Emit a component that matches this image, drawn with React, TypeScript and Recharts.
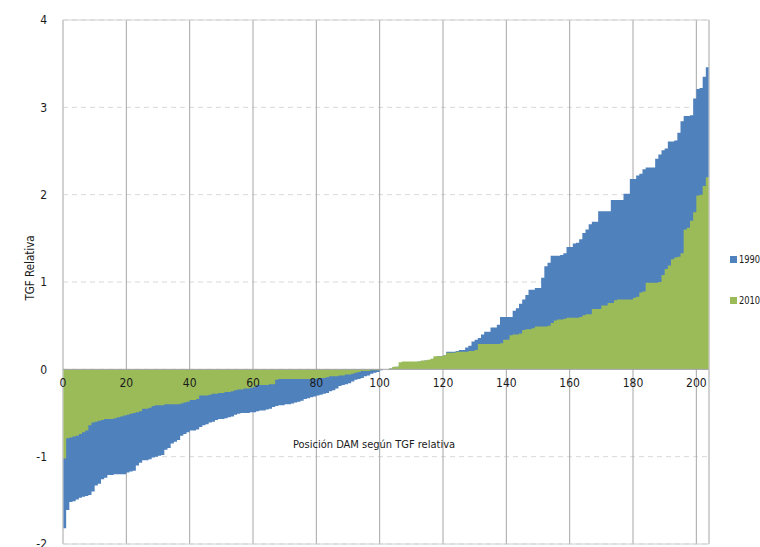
import React from 'react';
import {
  AreaChart,
  Area,
  XAxis,
  YAxis,
  CartesianGrid,
  ReferenceLine,
  ReferenceArea,
  Legend,
} from 'recharts';

// TGF relativa por DAM, ordenada de menor a mayor (posición 0..203)
const tgf1990 = [
  -1.82, -1.61, -1.52, -1.51, -1.49, -1.47, -1.46, -1.45, -1.44, -1.40,
  -1.33, -1.31, -1.26, -1.24, -1.21, -1.21, -1.20, -1.20, -1.20, -1.20,
  -1.18, -1.17, -1.16, -1.10, -1.07, -1.04, -1.04, -1.03, -1.01, -1.00,
  -0.99, -0.98, -0.92, -0.90, -0.85, -0.83, -0.81, -0.76, -0.74, -0.72,
  -0.70, -0.70, -0.69, -0.66, -0.64, -0.63, -0.61, -0.60, -0.58, -0.57,
  -0.57, -0.56, -0.55, -0.54, -0.52, -0.51, -0.50, -0.50, -0.50, -0.49,
  -0.49, -0.48, -0.47, -0.47, -0.46, -0.45, -0.43, -0.42, -0.41, -0.41,
  -0.40, -0.40, -0.39, -0.38, -0.37, -0.36, -0.34, -0.33, -0.32, -0.31,
  -0.30, -0.29, -0.28, -0.27, -0.25, -0.24, -0.22, -0.19, -0.18, -0.17,
  -0.16, -0.14, -0.12, -0.11, -0.10, -0.08, -0.07, -0.05, -0.04, -0.03,
  -0.01, 0.00, 0.00, 0.01, 0.02, 0.03, 0.04, 0.05, 0.06, 0.07,
  0.08, 0.08, 0.09, 0.09, 0.10, 0.10, 0.11, 0.13, 0.15, 0.15,
  0.16, 0.20, 0.20, 0.20, 0.21, 0.22, 0.22, 0.25, 0.27, 0.32,
  0.34, 0.36, 0.40, 0.43, 0.43, 0.48, 0.48, 0.51, 0.60, 0.60,
  0.60, 0.60, 0.67, 0.70, 0.75, 0.80, 0.85, 0.91, 0.91, 0.93,
  0.93, 1.05, 1.18, 1.22, 1.30, 1.30, 1.30, 1.31, 1.33, 1.40,
  1.40, 1.44, 1.45, 1.49, 1.56, 1.60, 1.66, 1.69, 1.69, 1.81,
  1.81, 1.81, 1.81, 1.94, 1.94, 1.94, 1.94, 2.01, 2.01, 2.18,
  2.18, 2.22, 2.24, 2.29, 2.31, 2.31, 2.31, 2.41, 2.46, 2.51,
  2.53, 2.61, 2.61, 2.62, 2.71, 2.84, 2.90, 2.90, 2.91, 3.10,
  3.21, 3.22, 3.35, 3.46,
];

const tgf2010 = [
  -1.02, -0.79, -0.78, -0.77, -0.76, -0.74, -0.72, -0.70, -0.64, -0.61,
  -0.60, -0.59, -0.58, -0.57, -0.57, -0.57, -0.56, -0.55, -0.54, -0.53,
  -0.52, -0.51, -0.50, -0.49, -0.48, -0.45, -0.45, -0.44, -0.42, -0.41,
  -0.41, -0.41, -0.40, -0.40, -0.40, -0.40, -0.40, -0.39, -0.38, -0.37,
  -0.35, -0.35, -0.34, -0.30, -0.30, -0.30, -0.29, -0.28, -0.28, -0.27,
  -0.27, -0.26, -0.26, -0.25, -0.24, -0.23, -0.23, -0.22, -0.22, -0.21,
  -0.20, -0.18, -0.18, -0.18, -0.18, -0.17, -0.17, -0.12, -0.11, -0.11,
  -0.11, -0.11, -0.11, -0.11, -0.11, -0.11, -0.11, -0.11, -0.11, -0.11,
  -0.10, -0.10, -0.10, -0.09, -0.08, -0.08, -0.08, -0.07, -0.07, -0.06,
  -0.06, -0.05, -0.04, -0.03, -0.02, -0.02, -0.02, -0.01, -0.01, -0.01,
  0.00, 0.00, 0.00, 0.01, 0.03, 0.03, 0.08, 0.09, 0.09, 0.09,
  0.09, 0.09, 0.09, 0.10, 0.10, 0.11, 0.12, 0.15, 0.15, 0.15,
  0.16, 0.19, 0.19, 0.19, 0.20, 0.20, 0.20, 0.20, 0.21, 0.21,
  0.22, 0.29, 0.29, 0.29, 0.29, 0.29, 0.29, 0.29, 0.30, 0.34,
  0.34, 0.39, 0.40, 0.40, 0.41, 0.45, 0.46, 0.46, 0.47, 0.49,
  0.49, 0.49, 0.49, 0.50, 0.53, 0.56, 0.57, 0.57, 0.58, 0.59,
  0.59, 0.59, 0.59, 0.60, 0.62, 0.63, 0.63, 0.69, 0.69, 0.69,
  0.73, 0.73, 0.76, 0.76, 0.79, 0.80, 0.80, 0.80, 0.80, 0.80,
  0.82, 0.83, 0.88, 0.89, 0.99, 0.99, 0.99, 0.99, 1.00, 1.08,
  1.15, 1.19, 1.26, 1.28, 1.29, 1.33, 1.60, 1.62, 1.70, 1.80,
  1.99, 2.00, 2.10, 2.20,
];

const xTicks = [0, 20, 40, 60, 80, 100, 120, 140, 160, 180, 200];
const yTicks = [-2, -1, 0, 1, 2, 3, 4];

const BLUE = '#4f81bd';
const GREEN = '#9bbb59';
const FONT = "'Liberation Sans Narrow', 'DejaVu Sans Condensed', 'Roboto', sans-serif";

const W = 760;
const H = 560;
const M = { top: 20, right: 51, bottom: 0, left: 0 };
const X_AXIS_H = 16;
const Y_MIN = -2;
const Y_MAX = 4;
const PLOT_H = H - M.top - M.bottom - X_AXIS_H;
const ZERO_Y = M.top + ((Y_MAX - 0) / (Y_MAX - Y_MIN)) * PLOT_H;

// stepAfter needs a closing point so the last position gets its full width
const rows = tgf1990.map((v, i) => ({ pos: i, y1990: v, y2010: tgf2010[i] }));
rows.push({ pos: rows.length, y1990: tgf1990[tgf1990.length - 1], y2010: tgf2010[tgf2010.length - 1] });

function XTick(props: { x?: number; payload?: { value: number } }) {
  const { x, payload } = props;
  return (
    <text x={x} y={ZERO_Y + 9} dy="0.71em" textAnchor="middle" fill="#1a1a1a" fontSize={12} fontFamily={FONT}>
      {payload?.value}
    </text>
  );
}

function XTitle() {
  return (
    <text x={374} y={ZERO_Y + 79} textAnchor="middle" fill="#1a1a1a" fontSize={11} fontFamily={FONT}>
      Posición DAM según TGF relativa
    </text>
  );
}

function YTitle() {
  return (
    <text x={34} y={268} transform="rotate(-90 34 268)" textAnchor="middle" fill="#1a1a1a" fontSize={11.5} fontFamily={FONT}>
      TGF Relativa
    </text>
  );
}

function LegendBox({ payload }: { payload?: { value: string; color: string }[] }) {
  return (
    <div style={{ fontFamily: FONT, fontSize: 11, color: '#1a1a1a', whiteSpace: 'nowrap' }}>
      {(payload || []).map((p) => (
        <div key={p.value} style={{ display: 'flex', alignItems: 'center', height: 18, marginBottom: 23 }}>
          <span style={{ width: 7, height: 7, background: p.color, marginRight: 2, flex: 'none' }} />
          <span style={{ display: 'inline-block', transform: 'scaleX(0.84)', transformOrigin: 'left center' }}>{p.value}</span>
        </div>
      ))}
    </div>
  );
}

export default function App() {
  return (
    <div style={{ position: 'absolute', left: 0, top: 0, width: W, height: 547, overflow: 'hidden', background: '#fff' }}>
      <AreaChart width={W} height={H} data={rows} margin={M}>
        <CartesianGrid vertical={false} stroke="#d9d9d9" strokeDasharray="5 4" />
        <CartesianGrid horizontal={false} stroke="#a6a6a6" />
        <XAxis
          dataKey="pos"
          type="number"
          domain={[0, 204]}
          ticks={xTicks}
          height={X_AXIS_H}
          axisLine={false}
          tickLine={false}
          tick={XTick}
          interval={0}
          label={XTitle}
        />
        <YAxis
          type="number"
          domain={[Y_MIN, Y_MAX]}
          ticks={yTicks}
          width={63}
          axisLine={false}
          tickLine={false}
          tickSize={0}
          tickMargin={16}
          tick={{ fill: '#1a1a1a', fontSize: 12, fontFamily: FONT }}
          label={YTitle}
        />
        <Legend
          layout="vertical"
          align="center"
          verticalAlign="middle"
          wrapperStyle={{ left: 730, top: 250, width: 30 }}
          content={<LegendBox />}
        />
        <Area
          type="stepAfter"
          dataKey="y1990"
          name="1990"
          stroke="none"
          fill={BLUE}
          fillOpacity={1}
          isAnimationActive={false}
        />
        <Area
          type="stepAfter"
          dataKey="y2010"
          name="2010"
          stroke="none"
          fill={GREEN}
          fillOpacity={1}
          isAnimationActive={false}
        />
        <ReferenceLine y={0} stroke="#a6a6a6" />
        <ReferenceArea x1={0} x2={204} y1={Y_MIN} y2={Y_MAX} fill="none" stroke="#d0d0d0" />
      </AreaChart>
    </div>
  );
}
